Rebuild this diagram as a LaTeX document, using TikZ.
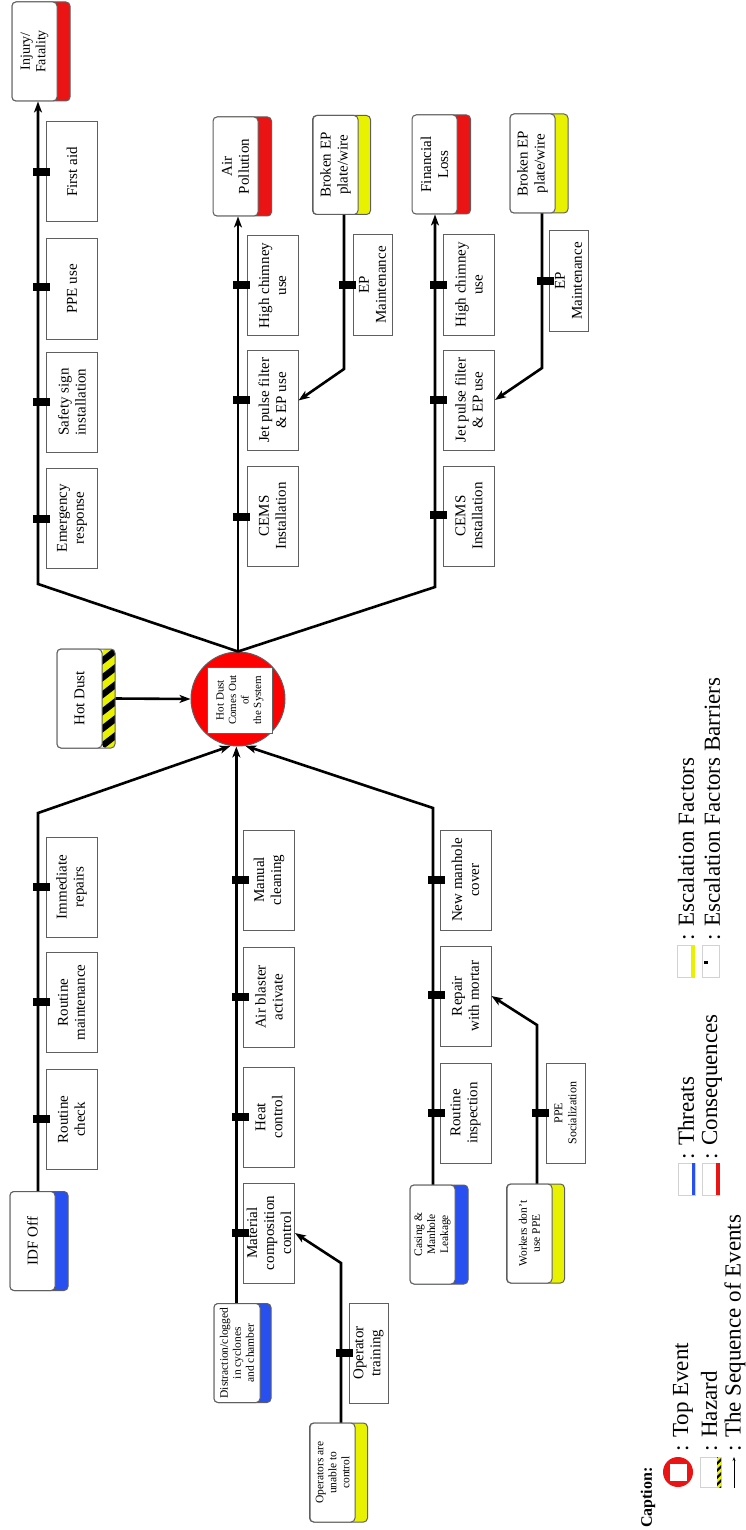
\documentclass[tikz,border=0pt]{standalone}
\usepackage{fontspec}
\setmainfont{Liberation Serif}
\usetikzlibrary{arrows.meta,positioning}

\definecolor{threatblue}{RGB}{40,80,240}
\definecolor{conred}{RGB}{235,20,20}
\definecolor{escyellow}{RGB}{232,242,0}
\definecolor{boxgray}{RGB}{95,95,95}

\begin{document}
\begin{tikzpicture}[x=1pt, y=-1pt,
    backing/.style={draw=boxgray, rounded corners=4pt, line width=1pt, minimum width=58pt, minimum height=99pt, inner sep=0pt},
    eventbox/.style={draw=boxgray, fill=white, rounded corners=4pt, line width=1pt, rotate=90, minimum width=99pt, minimum height=45pt, inner sep=1pt, align=center, font=\fontsize{15}{17}\selectfont},
    ctrl/.style={draw=boxgray, fill=white, line width=1pt, rotate=90, minimum width=100pt, minimum height=51pt, inner sep=1pt, align=center, font=\fontsize{15}{17}\selectfont},
    narrow/.style={ctrl, minimum height=39pt},
    smalltext/.style={font=\fontsize{11.5}{13}\selectfont},
    bar/.style={fill=black, minimum width=17pt, minimum height=8pt, inner sep=0pt},
    seq/.style={line width=2.6pt},
    arrow/.style={seq, -{Stealth[length=11pt, width=8pt, inset=3pt]}},
    legend/.style={rotate=90, anchor=west, inner sep=0pt, font=\fontsize{23}{26}\selectfont},
    icon/.style={draw=gray!35, line width=0.6pt, minimum width=17pt, minimum height=32pt, inner sep=0pt},
    iconstrip/.style={minimum width=3.5pt, minimum height=32pt, inner sep=0pt}
]
\useasboundingbox (0,0) rectangle (746,1530);

% Top event
\node[circle, draw=boxgray, fill=red, line width=1pt, minimum size=94pt, inner sep=0pt] (top) at (238,699) {};
\node[draw=boxgray, fill=white, line width=1pt, rotate=90, minimum width=66pt, minimum height=65pt, inner sep=0pt, align=center, font=\fontsize{11}{12.5}\selectfont] (toptxt) at (240,700) {Hot Dust\\Comes Out\\of\\the System};

% Hazard
\begin{scope}
\clip[rounded corners=4pt] (102,649) rectangle (115,748);
\fill[escyellow] (102,649) rectangle (115,748);
\foreach \s in {640,657,...,770}
    \fill[black] (102,\s) -- (102,\s+8) -- (115,\s-2) -- (115,\s-10) -- cycle;
\end{scope}
\node[backing] (haz) at (86,698.5) {};
\node[eventbox] (haztxt) at (79.5,698.5) {Hot Dust};

% Threats
\node[backing, fill=threatblue] (idf) at (39,1241) {};
\node[eventbox] (idftxt) at (32.5,1241) {IDF Off};
\node[backing, fill=threatblue, minimum width=57pt] (dis) at (242.5,1353) {};
\node[eventbox, smalltext, minimum height=46pt] (distxt) at (237,1353) {Distraction/clogged\\in cyclones\\and chamber};
\node[backing, fill=threatblue] (cas) at (439,1234.5) {};
\node[eventbox, smalltext] (castxt) at (432.5,1234.5) {Casing \&\\Manhole\\Leakage};

% Escalation factors
\node[backing, fill=escyellow] (op) at (338.5,1472.5) {};
\node[eventbox, smalltext] (optxt) at (332.5,1472.5) {Operators are\\unable to\\control};
\node[backing, fill=escyellow] (wk) at (535.5,1233.5) {};
\node[eventbox, smalltext] (wktxt) at (529.5,1233.5) {Workers don't\\use PPE};
\node[backing, fill=escyellow] (ep1) at (341.5,165) {};
\node[eventbox] (ep1txt) at (335.5,165) {Broken EP\\plate/wire};
\node[backing, fill=escyellow] (ep2) at (539,163.5) {};
\node[eventbox] (ep2txt) at (532.5,163.5) {Broken EP\\plate/wire};

% Consequences
\node[backing, fill=conred] (inj) at (41,51.5) {};
\node[eventbox, font=\fontsize{14}{15.5}\selectfont] (injtxt) at (34.5,51.5) {Injury/\\Fatality};
\node[backing, fill=conred] (airp) at (242.5,166.5) {};
\node[eventbox] (airptxt) at (235.5,166.5) {Air\\Pollution};
\node[backing, fill=conred] (fin) at (441.5,164.5) {};
\node[eventbox] (fintxt) at (434.5,164.5) {Financial\\Loss};

% Barriers, threat side
\node[ctrl] (rcheck) at (71.5,1119.5) {Routine\\check};
\node[ctrl] (rmaint) at (71.5,1002.5) {Routine\\maintenance};
\node[ctrl] (irep) at (71.5,887) {Immediate\\repairs};
\node[ctrl] (mat) at (269,1233) {Material\\composition\\control};
\node[ctrl] (heat) at (269,1117) {Heat\\control};
\node[ctrl] (blast) at (269,997) {Air blaster\\activate};
\node[ctrl] (clean) at (269,880) {Manual\\cleaning};
\node[ctrl] (rinsp) at (465.5,1113) {Routine\\inspection};
\node[ctrl] (rep) at (465.5,996) {Repair\\with mortar};
\node[ctrl] (cover) at (465.5,880) {New manhole\\cover};
\node[narrow] (optrain) at (368.5,1353) {Operator\\training};
\node[narrow, font=\fontsize{12}{14}\selectfont] (ppesoc) at (565.5,1113) {PPE\\Socialization};

% Barriers, consequence side
\node[ctrl] (emerg) at (72,518) {Emergency\\response};
\node[ctrl] (sign) at (72,402) {Safety sign\\installation};
\node[ctrl] (ppe) at (72,289) {PPE use};
\node[ctrl] (faid) at (72,172) {First aid};
\node[ctrl] (cems1) at (272.5,516) {CEMS\\Installation};
\node[ctrl] (jet1) at (272.5,400.5) {Jet pulse filter\\\& EP use};
\node[ctrl] (chim1) at (272.5,285.5) {High chimney\\use};
\node[ctrl] (cems2) at (469,516) {CEMS\\Installation};
\node[ctrl] (jet2) at (469,400) {Jet pulse filter\\\& EP use};
\node[ctrl] (chim2) at (469,285) {High chimney\\use};
\node[narrow] (epm1) at (372.5,285) {EP\\Maintenance};
\node[narrow] (epm2) at (568.5,281) {EP\\Maintenance};

% Arrows
\coordinate (b1) at (38,813);
\coordinate (b3) at (433,808);
\draw[arrow] (idf.north -| b1) -- (b1) -- (top.261);
\draw[arrow] (dis.north -| top.268) -- (top.268);
\draw[arrow] (cas.north -| b3) -- (b3) -- (top.279);
\draw[arrow] (haz.east) -- (top.west);

\coordinate (c1) at (38,584);
\coordinate (c3) at (435,587);
\draw[arrow] (top.north) -- (c1) -- (c1 |- inj.south);
\draw[arrow] (top.north) -- (top.north |- airp.south);
\draw[arrow] (top.north) -- (c3) -- (c3 |- fin.south);

\coordinate (e1) at (341,1263);
\coordinate (e2) at (537,1025);
\coordinate (e3) at (344,369);
\coordinate (e4) at (542,368);
\draw[arrow] (op.north -| e1) -- (e1) -- (mat.south);
\draw[arrow] (wk.north -| e2) -- (e2) -- (rep.south);
\draw[arrow] (ep1.south -| e3) -- (e3) -- (jet1.south);
\draw[arrow] (ep2.south -| e4) -- (e4) -- (jet2.south);

% Barrier marks on the lines
\foreach \x/\y [count=\i] in {41.5/1119, 41.5/1002, 41.5/887,
    240/1233, 240/1117, 240/997, 240/880,
    436.5/1113, 436.5/995, 436.5/880, 344.5/1353, 540.5/1113,
    41.5/172, 41.5/287, 41.5/402, 41.5/519,
    241.5/285, 241.5/400, 241.5/517,
    438.5/285, 438.5/400, 438.5/515, 347.5/285, 545.5/281}
    \node[bar] (bar\i) at (\x,\y) {};

% Caption
\node[rotate=90, anchor=west, inner sep=0pt, font=\bfseries\fontsize{16}{18}\selectfont] (captitle) at (648,1528) {Caption:};
\node[circle, fill=conred, minimum size=30pt, inner sep=0pt] (lgtop) at (678,1472) {};
\node[fill=white, minimum size=17pt, inner sep=0pt] (lgtopin) at (678,1472) {};
\node[legend] (lgtoptxt) at (683,1452) {: Top Event};
\node[icon, minimum width=21pt, minimum height=30pt] (lghaz) at (710.5,1472) {};
\begin{scope}
\clip (717,1457) rectangle (721,1487);
\fill[escyellow] (717,1457) rectangle (721,1487);
\foreach \s in {1455,1462,...,1492}
    \fill[black] (717,\s) -- (717,\s+3) -- (721,\s-1) -- (721,\s-4) -- cycle;
\end{scope}
\node[legend] (lghaztxt) at (709,1452) {: Hazard};
\coordinate (lgs1) at (734,1488);
\coordinate (lgs2) at (734,1457);
\draw[line width=0.8pt, -{Stealth[length=4pt, width=3pt]}] (lgs1) -- (lgs2);
\node[legend] (lgseqtxt) at (735,1452) {: The Sequence of Events};

\node[icon] (lgthr) at (686.5,1179) {};
\node[iconstrip, fill=threatblue] (lgthrs) at (693.5,1179) {};
\node[legend] (lgthrtxt) at (686,1160) {: Threats};
\node[icon] (lgcon) at (711,1179) {};
\node[iconstrip, fill=conred] (lgcons) at (718,1179) {};
\node[legend] (lgcontxt) at (712,1160) {: Consequences};

\node[icon] (lgesc) at (686,961) {};
\node[iconstrip, fill=escyellow] (lgescs) at (693,961) {};
\node[legend] (lgesctxt) at (686,941) {: Escalation Factors};
\node[icon] (lgeb) at (711,961) {};
\node[fill=black, minimum width=4pt, minimum height=3pt, inner sep=0pt] (lgebmark) at (706,962) {};
\node[legend] (lgebtxt) at (712,941) {: Escalation Factors Barriers};

\end{tikzpicture}
\end{document}
